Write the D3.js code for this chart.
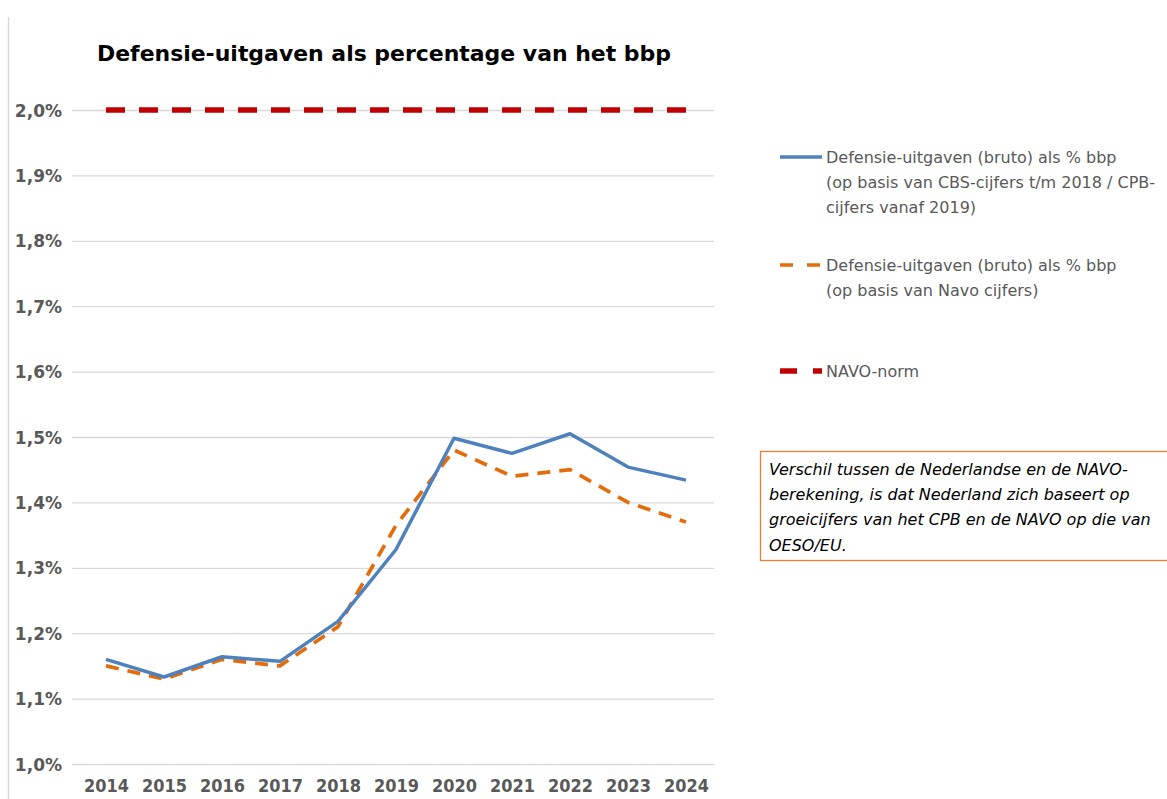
<!DOCTYPE html>
<html>
<head>
<meta charset="utf-8">
<script src="https://cdn.jsdelivr.net/npm/d3@7"></script>
<style>
  body { margin: 0; background: #fff; }
  text { font-family: "DejaVu Sans", Verdana, sans-serif; }
</style>
</head>
<body>
<script>
// data
var years = [2014, 2015, 2016, 2017, 2018, 2019, 2020, 2021, 2022, 2023, 2024];
var cbsValues = [1.16, 1.133, 1.164, 1.157, 1.218, 1.328, 1.498, 1.475, 1.505, 1.454, 1.434];
var navoValues = [1.15, 1.13, 1.16, 1.15, 1.21, 1.365, 1.48, 1.44, 1.45, 1.40, 1.37];
var normValues = [2.0, 2.0, 2.0, 2.0, 2.0, 2.0, 2.0, 2.0, 2.0, 2.0, 2.0];
var yTicks = [1.0, 1.1, 1.2, 1.3, 1.4, 1.5, 1.6, 1.7, 1.8, 1.9, 2.0];
var legendLabels = [
  ["Defensie-uitgaven (bruto) als % bbp", "(op basis van CBS-cijfers t/m 2018 / CPB-", "cijfers vanaf 2019)"],
  ["Defensie-uitgaven (bruto) als % bbp", "(op basis van Navo cijfers)"],
  ["NAVO-norm"]
];
var noteLines = [
  "Verschil tussen de Nederlandse en de NAVO-",
  "berekening, is dat Nederland zich baseert op",
  "groeicijfers van het CPB en de NAVO op die van",
  "OESO/EU."
];

var W = 1167, H = 799;
var svg = d3.select("body").append("svg").attr("width", W).attr("height", H);

// chart frame border on the left
svg.append("line")
  .attr("x1", 8.5).attr("x2", 8.5).attr("y1", 17).attr("y2", H)
  .attr("stroke", "#d9d9d9").attr("stroke-width", 1.5);

var x = d3.scalePoint().domain(years).range([106, 686]);
var y = d3.scaleLinear().domain([1.0, 2.0]).range([764, 110]);

// gridlines
svg.append("g").selectAll("line")
  .data(yTicks).enter().append("line")
  .attr("x1", 72).attr("x2", 714)
  .attr("y1", function (d) { return y(d) + 0.5; })
  .attr("y2", function (d) { return y(d) + 0.5; })
  .attr("stroke", "#d9d9d9").attr("stroke-width", 1.3);

// y axis labels
var yAxis = d3.axisLeft(y).tickValues(yTicks).tickSize(0).tickPadding(0)
  .tickFormat(function (d) { return d.toFixed(1).replace(".", ",") + "%"; });
var gy = svg.append("g").attr("transform", "translate(62,0)").call(yAxis);
gy.select(".domain").remove();
gy.selectAll("text")
  .attr("font-family", "'DejaVu Sans Condensed', 'DejaVu Sans', sans-serif")
  .attr("font-size", 17).attr("font-weight", "bold").attr("fill", "#595959")
  .attr("dy", "0.36em");

// x axis labels
var xAxis = d3.axisBottom(x).tickSize(0).tickPadding(0);
var gx = svg.append("g").attr("transform", "translate(0,780)").call(xAxis);
gx.select(".domain").remove();
gx.selectAll("text")
  .attr("font-family", "'DejaVu Sans Condensed', 'DejaVu Sans', sans-serif")
  .attr("font-size", 17).attr("font-weight", "bold").attr("fill", "#595959")
  .attr("dy", "0.7em")
  .attr("textLength", 45).attr("lengthAdjust", "spacingAndGlyphs");

var line = d3.line()
  .x(function (d, i) { return x(years[i]); })
  .y(function (d) { return y(d); });

svg.append("path").datum(normValues)
  .attr("d", line).attr("fill", "none")
  .attr("stroke", "#c00000").attr("stroke-width", 5.5)
  .attr("stroke-dasharray", "19,14");

svg.append("path").datum(navoValues)
  .attr("d", line).attr("fill", "none")
  .attr("stroke", "#e46c0a").attr("stroke-width", 3.7)
  .attr("stroke-dasharray", "13,9");

svg.append("path").datum(cbsValues)
  .attr("d", line).attr("fill", "none")
  .attr("stroke", "#4f81bd").attr("stroke-width", 3.5)
  .attr("stroke-linejoin", "round");

// title
svg.append("text")
  .attr("x", 384).attr("y", 61)
  .attr("text-anchor", "middle")
  .attr("font-family", "'DejaVu Sans Condensed', 'DejaVu Sans', sans-serif")
  .attr("font-size", 21).attr("font-weight", "bold").attr("fill", "#000")
  .attr("textLength", 574).attr("lengthAdjust", "spacingAndGlyphs")
  .text("Defensie-uitgaven als percentage van het bbp");

// legend
var legendY = [157, 265, 371];
var legendStyles = [
  { color: "#4f81bd", width: 3.5, dash: null },
  { color: "#e46c0a", width: 3.5, dash: "13,14" },
  { color: "#c00000", width: 5.5, dash: "17,16" }
];
var legend = svg.selectAll(".legend")
  .data(legendLabels).enter().append("g")
  .attr("class", "legend")
  .attr("transform", function (d, i) { return "translate(0," + legendY[i] + ")"; });
legend.append("line")
  .attr("x1", 780).attr("x2", 822).attr("y1", 0).attr("y2", 0)
  .attr("stroke", function (d, i) { return legendStyles[i].color; })
  .attr("stroke-width", function (d, i) { return legendStyles[i].width; })
  .attr("stroke-dasharray", function (d, i) { return legendStyles[i].dash; });
legend.each(function (lines) {
  var t = d3.select(this).append("text")
    .attr("x", 826).attr("y", 0)
    .attr("font-size", 16).attr("fill", "#595959");
  lines.forEach(function (s, j) {
    t.append("tspan").attr("x", 826).attr("y", j * 25).attr("dy", "0.35em").text(s);
  });
});

// note box
svg.append("rect")
  .attr("x", 760.5).attr("y", 451.5).attr("width", 420).attr("height", 109)
  .attr("fill", "#fff").attr("stroke", "#ed7d31").attr("stroke-width", 1.3);
svg.append("g").selectAll("text")
  .data(noteLines).enter().append("text")
  .attr("x", 769)
  .attr("y", function (d, i) { return 469 + i * 25.3; })
  .attr("dy", "0.35em")
  .attr("font-size", 16).attr("font-style", "italic").attr("fill", "#000")
  .text(function (d) { return d; });
</script>
</body>
</html>
